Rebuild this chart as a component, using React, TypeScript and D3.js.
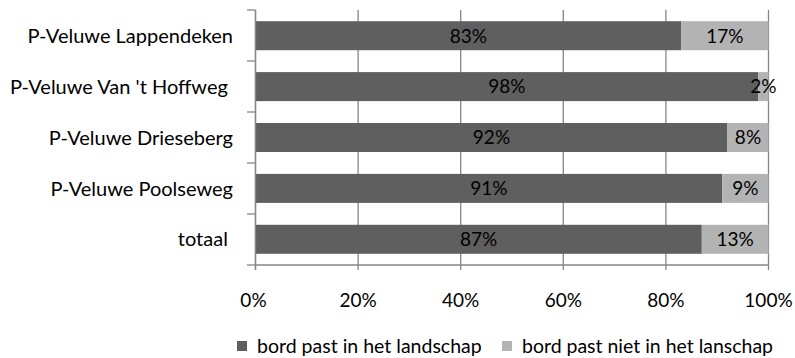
import React from "react";
import * as d3 from "d3";

const categories = ["P-Veluwe Lappendeken", "P-Veluwe Van 't Hoffweg ", "P-Veluwe Drieseberg", "P-Veluwe Poolseweg", "totaal "];
const pastIn = [83, 98, 92, 91, 87];
const pastNiet = [17, 2, 8, 9, 13];
const xTicks = [0, 20, 40, 60, 80, 100];
const seriesNames = ["bord past in het landschap", "bord past niet in het lanschap"];
const colors = ["#5f5f5f", "#b3b3b3"];

export default function App() {
  const W = 795, H = 358;
  const x = d3.scaleLinear().domain([0, 100]).range([255.5, 768.5]);
  const y = d3.scaleBand<string>().domain(categories).range([10, 265]).paddingInner(0.43).paddingOuter(0.22);
  const yOuter = d3.scaleBand<string>().domain(categories).range([10, 265]);
  const font = "Lato, 'Open Sans', sans-serif";
  const fs = 19;
  return (
    <svg width={W} height={H} style={{ position: "absolute", left: 0, top: 0 }} fontFamily={font}>
      <rect width={W} height={H} fill="#fff" />
      {xTicks.map((t) => (
        <line key={"g" + t} x1={x(t)} x2={x(t)} y1={10} y2={270} stroke="#868686" strokeWidth={1.3} />
      ))}
      {categories.map((c, i) => {
        const y0 = y(c)!;
        const bh = y.bandwidth();
        const cy = y0 + bh / 2;
        return (
          <g key={c}>
            <rect x={x(0)} y={y0} width={x(pastIn[i]) - x(0)} height={bh} fill={colors[0]} />
            <rect x={x(pastIn[i])} y={y0} width={x(pastIn[i] + pastNiet[i]) - x(pastIn[i])} height={bh} fill={colors[1]} />
            <text x={(x(0) + x(pastIn[i])) / 2} y={cy} dy="0.36em" textAnchor="middle" fontSize={fs} fill="#000">{pastIn[i]}%</text>
            <text x={(x(pastIn[i]) + x(100)) / 2} y={cy} dy="0.36em" textAnchor="middle" fontSize={fs} fill="#000">{pastNiet[i]}%</text>
            <text x={233} y={cy} dy="0.36em" textAnchor="end" fontSize={20} fill="#000" style={{ whiteSpace: "pre" }}>{c}</text>
          </g>
        );
      })}
      {categories.map((c) => (
        <line key={"t" + c} x1={247} x2={255.5} y1={yOuter(c)!} y2={yOuter(c)!} stroke="#868686" strokeWidth={1.3} />
      ))}
      <line x1={247} x2={255.5} y1={265} y2={265} stroke="#868686" strokeWidth={1.3} />
      <line x1={255.5} x2={255.5} y1={10} y2={270} stroke="#868686" strokeWidth={1.3} />
      <line x1={255.5} x2={768.5} y1={265} y2={265} stroke="#868686" strokeWidth={1.3} />
      {xTicks.map((t) => (
        <text key={"l" + t} x={x(t) - (t === 0 ? 2 : 0)} y={300} dy="0.36em" textAnchor="middle" fontSize={fs} fill="#000">{t}%</text>
      ))}
      <rect x={237} y={341} width={10} height={10} fill={colors[0]} />
      <text x={257} y={346} dy="0.36em" fontSize={19.5} fill="#000">{seriesNames[0]}</text>
      <rect x={502} y={341} width={10} height={10} fill={colors[1]} />
      <text x={522} y={346} dy="0.36em" fontSize={19.5} fill="#000" textLength={251} lengthAdjust="spacingAndGlyphs">{seriesNames[1]}</text>
    </svg>
  );
}
